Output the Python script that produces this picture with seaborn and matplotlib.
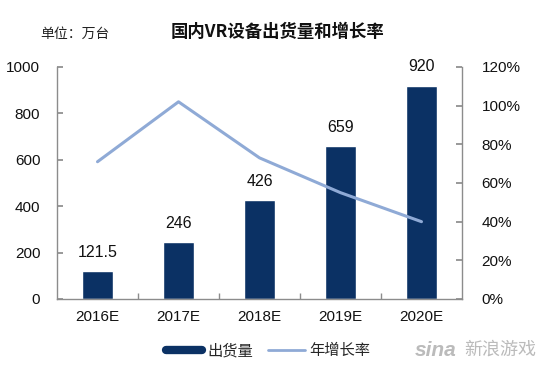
import matplotlib
matplotlib.use("Agg")
import matplotlib.pyplot as plt
import seaborn as sns
import pandas as pd
from matplotlib.lines import Line2D
from matplotlib.ticker import FixedLocator

years = ["2016E", "2017E", "2018E", "2019E", "2020E"]
shipments = [121.5, 246, 426, 659, 920]
shipment_labels = ["121.5", "246", "426", "659", "920"]
growth = [71, 102, 73, 55, 40]

sns.set_theme(style="white")
plt.rcParams['font.family'] = ['Liberation Sans', 'Noto Sans CJK SC', 'DejaVu Sans']

df = pd.DataFrame({"year": years, "shipments": shipments, "growth": growth})

bar_color = "#0B3164"
line_color = "#8FAAD6"
spine_color = "#8C8C8C"

fig = plt.figure(figsize=(5.5, 3.72), dpi=100)
ax = fig.add_axes([57/550, 1-299/372, (462-57)/550, (299-67)/372])

sns.barplot(data=df, x="year", y="shipments", color=bar_color, width=0.39,
            saturation=1, ax=ax)
ax.set_xlim(-0.5, 4.5)
ax.set_ylim(0, 1000)
ax.set_yticks([0, 200, 400, 600, 800, 1000])
ax.set_xlabel("")
ax.set_ylabel("")
for i, (v, lab) in enumerate(zip(shipments, shipment_labels)):
    ax.annotate(lab, (i, v), xytext=(0, 8), textcoords="offset points",
                ha="center", va="bottom", fontsize=11.5, color="#111111")

ax2 = ax.twinx()
sns.lineplot(x=list(range(len(years))), y=growth, color=line_color, lw=2.2, ax=ax2)
ax2.set_ylim(0, 120)
ax2.set_yticks([0, 20, 40, 60, 80, 100, 120])
ax2.set_yticklabels([f"{t}%" for t in [0, 20, 40, 60, 80, 100, 120]])
ax2.set_xlim(-0.5, 4.5)

for a in (ax, ax2):
    for s in a.spines.values():
        s.set_color(spine_color)
        s.set_linewidth(1.0)
    a.spines['top'].set_visible(False)

ax.spines['right'].set_visible(False)
ax2.spines['left'].set_visible(False)
ax2.spines['bottom'].set_visible(False)

ax.tick_params(axis='y', direction='in', length=4, color=spine_color, left=True,
               labelsize=11, pad=12, labelcolor="#111111")
ax2.tick_params(axis='y', direction='in', length=4, color=spine_color, right=True,
                labelsize=11, pad=14, labelcolor="#111111")
ax.tick_params(axis='x', which='major', length=0, labelsize=11, pad=8, labelcolor="#111111")
ax.xaxis.set_minor_locator(FixedLocator([0.5, 1.5, 2.5, 3.5]))
ax.tick_params(axis='x', which='minor', direction='in', length=4, color=spine_color, bottom=True)

fig.text(40/550, 1-34/372, "单位：万台", fontsize=10, color="#222222",
         family=['Noto Sans CJK SC'], va="center", ha="left")
fig.text(278/550, 1-32/372, "国内VR设备出货量和增长率", fontsize=12.5, fontweight="bold",
         color="#111111", family=['Noto Sans CJK SC'], va="center", ha="center")

handles = [Line2D([0], [0], color=bar_color, lw=6),
           Line2D([0], [0], color=line_color, lw=2)]
leg = fig.legend(handles, ["出货量", "年增长率"], loc="center", bbox_to_anchor=(268/550, 1-351/372),
                 ncol=2, frameon=False, handlelength=2.4, columnspacing=1.0,
                 handletextpad=0.3, prop={'family': ['Noto Sans CJK SC'], 'size': 11})

fig.text(436/550, 1-350/372, "sina", fontsize=15, fontweight="bold", style="italic",
         color="#BBBBBB", va="center", ha="center")
fig.text(500/550, 1-350/372, "新浪游戏", fontsize=13, style="italic",
         color="#BBBBBB", family=['Noto Sans CJK SC'], va="center", ha="center")

fig.savefig("out.png", dpi=100)
